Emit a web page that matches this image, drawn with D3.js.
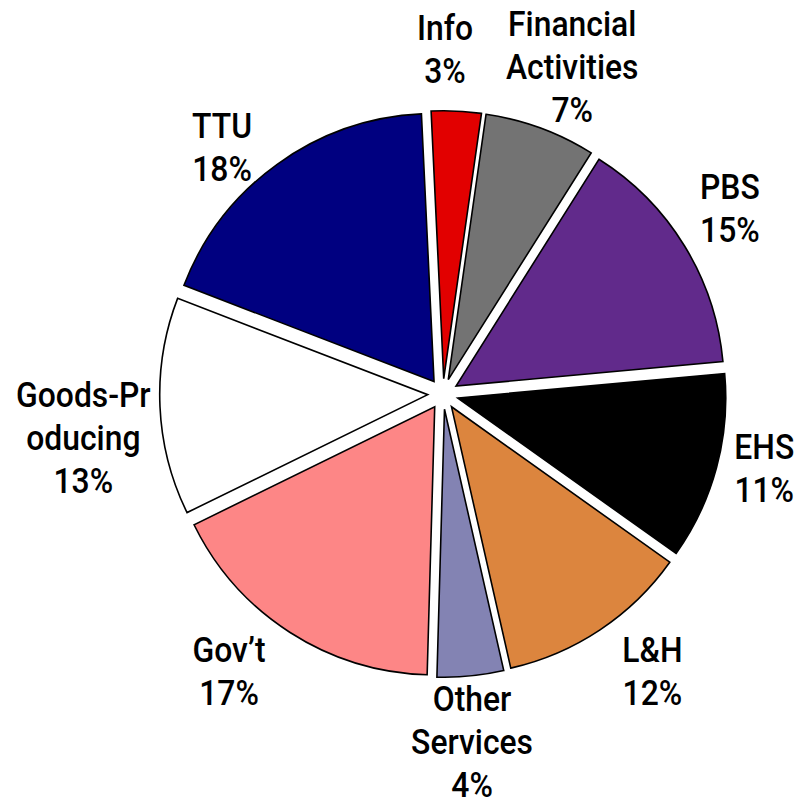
<!DOCTYPE html>
<html>
<head>
<meta charset="utf-8">
<script src="https://cdn.jsdelivr.net/npm/d3@7"></script>
<style>
  html, body { margin: 0; padding: 0; background: #fff; }
  svg { display: block; }
  text { font-family: Roboto, "DejaVu Sans Condensed", sans-serif; font-weight: 500; fill: #000; }
</style>
</head>
<body>
<svg id="chart" width="798" height="802"></svg>
<script>
// ---- data ----
const categories = ["Info", "Financial Activities", "PBS", "EHS", "L&H", "Other Services", "Gov\u2019t", "Goods-Producing", "TTU"];
const labelLines = [["Info"], ["Financial", "Activities"], ["PBS"], ["EHS"], ["L&H"], ["Other", "Services"], ["Gov\u2019t"], ["Goods-Pr", "oducing"], ["TTU"]];
const shares = [3.0, 6.7, 14.6, 11.3, 11.6, 4.0, 17.3, 13.1, 18.4];
const colors = ["#e20000", "#737373", "#612a8b", "#000000", "#dc853e", "#8383b3", "#fd8686", "#ffffff", "#000080"];

// ---- layout ----
const W = 798, H = 802;
const cx = 443, cy = 394;
const radius = 268, explode = 15.3, labelR = 340;
const startDeg = -2.7;
const fontSize = 36, lineH = 43, capH = 26, squeeze = 0.885;
const labelNudge = [[-14, -6], [12, -9], [-3, -9], [-7, -15], [21, -6], [-4, 9], [-30, -9], [-20, 28], [-22, 28]];

const svg = d3.select("#chart");
const g = svg.append("g").attr("transform", `translate(${cx},${cy})`);

const toRad = d => d * Math.PI / 180;
const pie = d3.pie().sort(null).value(d => d)
  .startAngle(toRad(startDeg)).endAngle(toRad(startDeg + 360));
const arcs = pie(shares);
const arc = d3.arc().innerRadius(0).outerRadius(radius);

arcs.forEach((a, i) => {
  const mid = (a.startAngle + a.endAngle) / 2;
  const ox = explode * Math.sin(mid), oy = -explode * Math.cos(mid);
  g.append("path")
    .attr("d", arc(a))
    .attr("transform", `translate(${ox},${oy})`)
    .attr("fill", colors[i])
    .attr("stroke", "#000")
    .attr("stroke-width", 1.6)
    .attr("stroke-linejoin", "miter");
});

const fmt = v => Math.round(v) + "%";
arcs.forEach((a, i) => {
  const mid = (a.startAngle + a.endAngle) / 2;
  const x = labelR * Math.sin(mid) + labelNudge[i][0];
  const y = -labelR * Math.cos(mid) + labelNudge[i][1];
  const lines = labelLines[i].concat([fmt(shares[i])]);
  const n = lines.length;
  const first = y - (n - 1) * lineH / 2 + capH / 2;
  const t = g.append("text")
    .attr("transform", `translate(${x},0) scale(${squeeze},1)`)
    .attr("text-anchor", "middle")
    .attr("font-size", fontSize);
  lines.forEach((ln, k) => {
    t.append("tspan").attr("x", 0).attr("y", first + k * lineH).text(ln);
  });
});
</script>
</body>
</html>
